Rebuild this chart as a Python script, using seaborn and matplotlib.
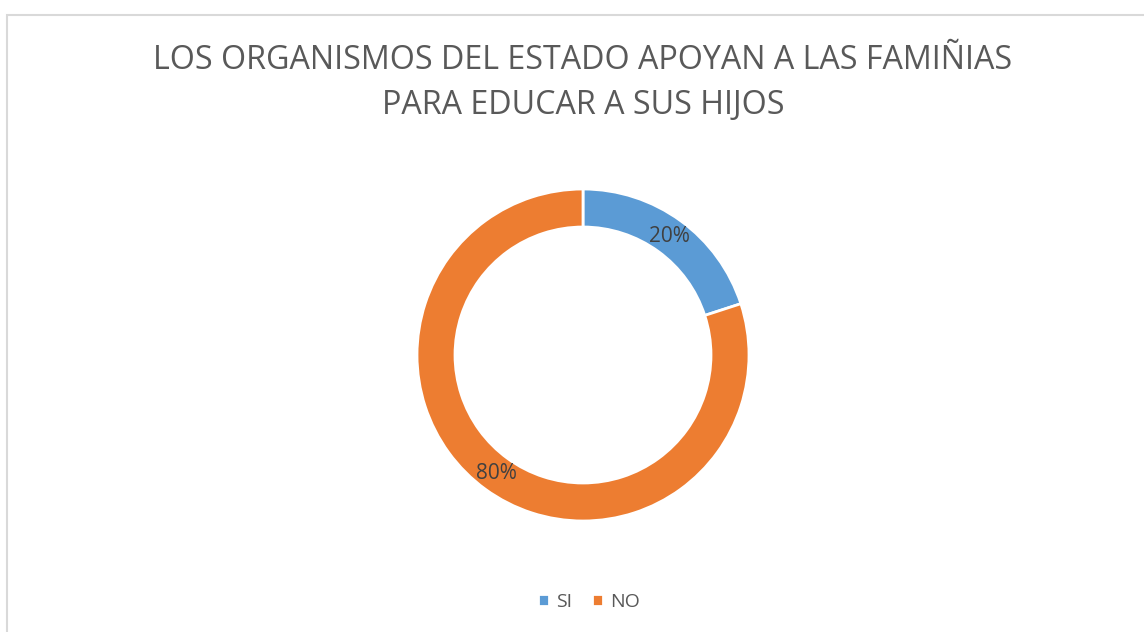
import matplotlib.pyplot as plt
import matplotlib.patches as mpatches
import seaborn as sns

labels = ['SI', 'NO']
values = [20, 80]
colors = ['#5b9bd5', '#ed7d31']
title = 'LOS ORGANISMOS DEL ESTADO APOYAN A LAS FAMIÑIAS\nPARA EDUCAR A SUS HIJOS'

sns.set_theme(style='white')
plt.rcParams['font.family'] = ['Open Sans', 'DejaVu Sans']

W, H = 1144, 632
fig = plt.figure(figsize=(W / 100, H / 100), dpi=100)

# donut centred at (583, 355) px, outer radius 166 px
cx, cy, r = 583, 355, 166
ax = fig.add_axes([(cx - r) / W, (H - cy - r) / H, 2 * r / W, 2 * r / H])
wedges, _, autotexts = ax.pie(
    values, colors=colors, startangle=90, counterclock=False,
    radius=1, autopct='%1.0f%%', pctdistance=0.886,
    wedgeprops=dict(width=0.229, edgecolor='white', linewidth=2),
    textprops=dict(color='#404040', fontsize=15))
ax.set_xlim(-1, 1)
ax.set_ylim(-1, 1)
ax.set_aspect('equal')
ax.axis('off')

fig.text(cx / W, 1 - 83 / H, title, ha='center', va='center',
         fontsize=23.2, color='#595959', linespacing=1.5)

fig.legend(wedges, labels, loc='center', bbox_to_anchor=(589 / W, 1 - 602 / H),
           ncol=2, frameon=False, fontsize=14, labelcolor='#595959',
           handlelength=0.55, handleheight=0.55, handletextpad=0.4, columnspacing=1.0)

# chart area border
fig.patches.append(mpatches.Rectangle((7 / W, -0.1), 1.2, 1 - 15 / H + 0.1,
                                      transform=fig.transFigure, fill=False,
                                      edgecolor='#d9d9d9', linewidth=1.5))

fig.savefig('out.png', dpi=100)
